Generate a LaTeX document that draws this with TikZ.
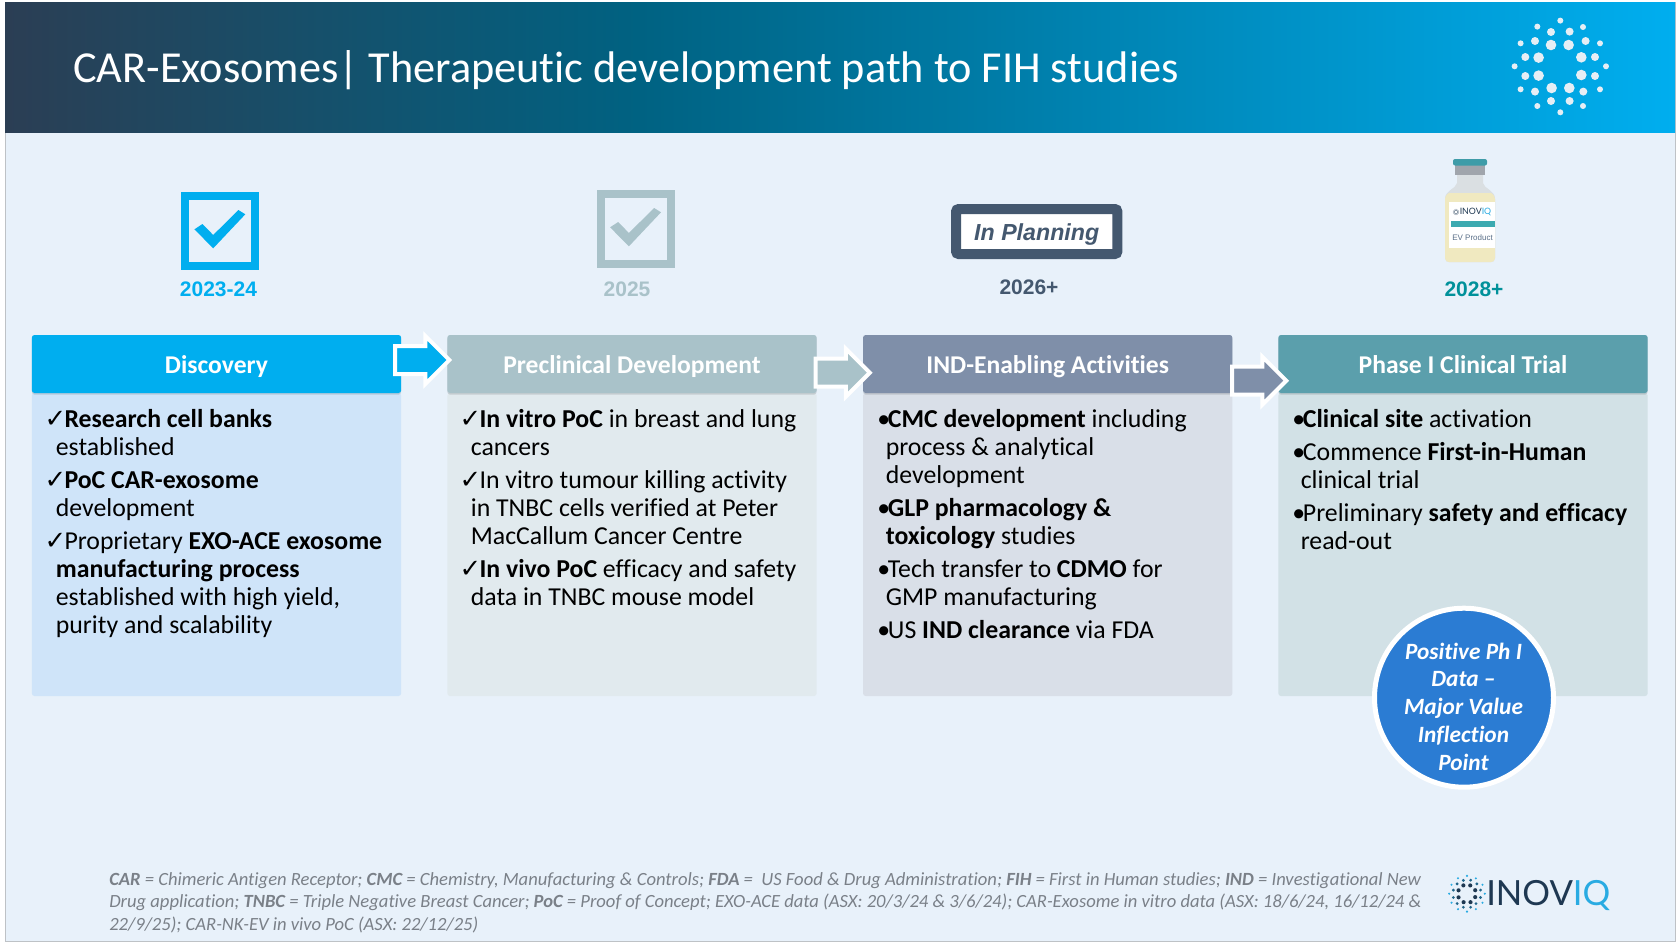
\documentclass[tikz,border=0pt]{standalone}
\usepackage{fontspec}
\setmainfont{Carlito}[Ligatures={TeX,CommonOff}]
\newfontfamily\yearfont{Liberation Sans}
\newfontfamily\symfont{DejaVu Sans}
\newfontfamily\logofont{Lato}
\usetikzlibrary{shapes.arrows,shapes.geometric,shadows,calc}
\definecolor{slide_bg}{RGB}{232, 241, 250}
\definecolor{slide_edge}{RGB}{190, 194, 198}
\definecolor{hd_dark}{RGB}{43, 62, 84}
\definecolor{hd_mid}{RGB}{0, 98, 130}
\definecolor{hd_light}{RGB}{0, 174, 239}
\definecolor{dot_pale}{RGB}{230, 238, 245}
\definecolor{disc_hd}{RGB}{0, 174, 239}
\definecolor{disc_bd}{RGB}{207, 228, 249}
\definecolor{pre_hd}{RGB}{169, 194, 201}
\definecolor{pre_bd}{RGB}{225, 234, 238}
\definecolor{ind_hd}{RGB}{127, 143, 169}
\definecolor{ind_bd}{RGB}{217, 223, 232}
\definecolor{ph_hd}{RGB}{91, 159, 172}
\definecolor{ph_bd}{RGB}{210, 225, 230}
\definecolor{plan_col}{RGB}{68, 88, 111}
\definecolor{year_teal}{RGB}{0, 145, 154}
\definecolor{circ_blue}{RGB}{43, 124, 211}
\definecolor{foot_grey}{RGB}{122, 128, 136}
\definecolor{logo_navy}{RGB}{30, 56, 82}
\definecolor{logo_blue}{RGB}{41, 171, 226}
\definecolor{vial_cap}{RGB}{62, 156, 168}
\definecolor{vial_crimp}{RGB}{160, 165, 172}
\definecolor{vial_glass}{RGB}{218, 223, 226}
\definecolor{vial_liquid}{RGB}{240, 233, 192}
\definecolor{vial_band}{RGB}{60, 170, 176}
\definecolor{vial_text}{RGB}{90, 111, 136}
\pgfdeclarehorizontalshading{headfade}{100bp}{color(0bp)=(hd_dark); color(25bp)=(hd_dark);
  color(44bp)=(hd_mid); color(75bp)=(hd_light); color(100bp)=(hd_light)}
\tikzstyle{phead}=[rectangle,rounded corners=2pt,text=white,inner sep=0pt,text height=14.9pt,text depth=1.1pt,
  minimum width=277pt,minimum height=43.5pt,font=\fontsize{19.2}{22}\selectfont\bfseries,
  drop shadow={shadow xshift=0pt,shadow yshift=-1.2pt,fill=black,opacity=.12}]
\tikzstyle{pbody}=[rectangle,rounded corners=2pt,inner sep=0pt,
  minimum width=277pt,minimum height=227.25pt]
\tikzstyle{ptext}=[anchor=north west,inner sep=0pt,align=left,text=black,
  font=\fontsize{19.35}{21.07}\selectfont]
\tikzstyle{year}=[inner sep=0pt,font=\fontsize{15.75}{18}\selectfont\yearfont\bfseries]
\tikzstyle{tickbox}=[rectangle,draw,line width=6pt,inner sep=0pt,
  minimum width=52.3pt,minimum height=52.5pt]
\tikzstyle{blockarrow}=[single arrow,draw=white,line width=3pt,anchor=tail,inner sep=0pt,
  inner ysep=9pt,minimum height=40.75pt,single arrow head extend=7.5pt,single arrow head indent=0pt]
\newcommand{\chk}{\makebox[13.7pt][l]{\hspace*{-1.2pt}\symfont ✓}}
\newcommand{\cnt}{\hspace*{7.2pt}}
\newcommand{\bul}{\makebox[8pt][l]{•}}
\newcommand{\bnt}{\hspace*{6.4pt}}
\newcommand{\ringdots}[6]{%
  \begin{scope}[shift={(#1,#2)},scale=#3]
    \foreach \dx/\dy in {0/-45.7,-23/-39.7,22.7/-39.3,-39.7/-23,39.7/-23,-45.7/0,45.7/0,
        -39.7/23,39.7/23,-23/39.7,22.7/39.7,0/46}
      \fill [#4] (\dx,\dy) circle (3);
    \foreach \dx/\dy in {-9.3/-34.3,9.3/-34.7,-25.3/-25.3,25.3/-25.3,-35/-9.3,34.7/-9.3,
        -35/9.7,34.7/9.7,-25.3/25.3,23/25.3,-9.3/34.7,9.3/34.7}
      \fill [#5] (\dx,\dy) circle (4);
    \foreach \dx/\dy in {-9.3/-21.3,8.3/-21.3,-21.7/-8.7,21/-9,-21.7/9.3,21/8.7,-8.7/21.7,9/21.7}
      \fill [#6] (\dx,\dy) circle (5.3);
  \end{scope}}
\begin{document}
\begin{tikzpicture}[x=0.75pt,y=-0.75pt]
  \useasboundingbox (0,0) rectangle (1678,943);
  \fill [white] (0,0) rectangle (1678,943);
  \draw [fill=slide_bg,draw=slide_edge,line width=0.75pt] (5,2) rectangle (1675,941);
  \shade [shading=headfade] (5,2) rectangle (1675,132.5);
  \node [anchor=west,inner sep=0pt,text=white,font=\fontsize{33.2}{38}\selectfont] (title) at (73,70)
    {CAR-Exosomes| Therapeutic development path to FIH studies};
  \ringdots{1560.3}{66.3}{1}{dot_pale}{dot_pale}{dot_pale}

  % status row
  \node [style=tickbox,draw=disc_hd] (box1) at (220,231) {};
  \fill [disc_hd] (194.4,229.3) -- (202.5,224) -- (213.2,235) -- (238.4,210) -- (245.3,214.3) -- (213.2,248.3) -- cycle;
  \node [style=tickbox,draw=pre_hd] (box2) at (636,229) {};
  \fill [pre_hd,shift={(415.7,-2)}] (194.4,229.3) -- (202.5,224) -- (213.2,235) -- (238.4,210) -- (245.3,214.3) -- (213.2,248.3) -- cycle;
  \node [rectangle,rounded corners=2pt,draw=plan_col,fill=white,line width=7.5pt,inner sep=0pt,
    minimum width=121pt,minimum height=33.75pt,text=plan_col,text height=14pt,text depth=0.3pt,
    font=\fontsize{17.4}{20}\selectfont\yearfont\bfseries\itshape] (plan) at (1036.7,231.5) {In Planning};
  \node [style=year,text=disc_hd] (y1) at (218.5,289) {2023-24};
  \node [style=year,text=pre_hd] (y2) at (627,289) {2025};
  \node [style=year,text=plan_col] (y3) at (1029,287) {2026+};
  \node [style=year,text=year_teal] (y4) at (1474,289) {2028+};

  % vial
  \fill [vial_glass] (1457,175) -- (1483,175) -- (1483,183) .. controls (1484,189) and (1495,190) .. (1495,199)
    -- (1495,258) .. controls (1495,261) and (1493,262) .. (1491,262) -- (1449,262)
    .. controls (1447,262) and (1445,261) .. (1445,258) -- (1445,199)
    .. controls (1445,190) and (1456,189) .. (1457,183) -- cycle;
  \fill [vial_liquid] (1449,193) -- (1491,193) .. controls (1494,195) and (1495,197) .. (1495,199)
    -- (1495,258) .. controls (1495,261) and (1493,262) .. (1491,262) -- (1449,262)
    .. controls (1447,262) and (1445,261) .. (1445,258) -- (1445,199)
    .. controls (1445,197) and (1446,195) .. (1449,193) -- cycle;
  \fill [vial_crimp] (1455,165) rectangle (1485,175);
  \fill [vial_cap,rounded corners=1.5pt] (1453,159) rectangle (1487,165.5);
  \fill [white] (1449,202) rectangle (1495,248);
  \fill [vial_band] (1451,221) rectangle (1495,227);
  \ringdots{1456}{212}{0.065}{logo_navy}{logo_navy}{logo_navy}
  \node [inner sep=0pt,font=\fontsize{6.6}{7}\selectfont\logofont,text=logo_navy] (vial1) at (1475.5,212) {INOV\textcolor{logo_blue}{IQ}};
  \node [inner sep=0pt,font=\fontsize{6}{7}\selectfont\yearfont,text=vial_text] (vial2) at (1472.5,237.5) {EV Product};

  % panels
  \node [style=pbody,fill=disc_bd] (b1) at (216.5,544.5) {};
  \node [style=pbody,fill=pre_bd] (b2) at (632,544.5) {};
  \node [style=pbody,fill=ind_bd] (b3) at (1047.7,544.5) {};
  \node [style=pbody,fill=ph_bd] (b4) at (1463,544.5) {};
  \node [style=phead,fill=disc_hd] (h1) at (216.5,364) {Discovery};
  \node [style=phead,fill=pre_hd] (h2) at (632,364) {Preclinical Development};
  \node [style=phead,fill=ind_hd] (h3) at (1047.7,364) {IND-Enabling Activities};
  \node [style=phead,fill=ph_hd] (h4) at (1463,364) {Phase I Clinical Trial};

  \node [style=ptext] (t1) at (46,409) {\chk\textbf{Research cell banks}\\
    \cnt established\\[3.7pt]
    \chk\textbf{PoC CAR-exosome}\\
    \cnt development\\[3.7pt]
    \chk Proprietary \textbf{EXO-ACE exosome}\\
    \cnt\textbf{manufacturing process}\\
    \cnt established with high yield,\\
    \cnt purity and scalability};
  \node [style=ptext] (t2) at (461,409) {\chk\textbf{In vitro PoC} in breast and lung\\
    \cnt cancers\\[3.7pt]
    \chk In vitro tumour killing activity\\
    \cnt in TNBC cells verified at Peter\\
    \cnt MacCallum Cancer Centre\\[3.7pt]
    \chk\textbf{In vivo PoC} efficacy and safety\\
    \cnt data in TNBC mouse model};
  \node [style=ptext] (t3) at (877,409) {\bul\textbf{CMC development} including\\
    \bnt process \& analytical\\
    \bnt development\\[3.7pt]
    \bul\textbf{GLP pharmacology \&}\\
    \bnt\textbf{toxicology} studies\\[3.7pt]
    \bul Tech transfer to \textbf{CDMO} for\\
    \bnt GMP manufacturing\\[3.7pt]
    \bul US \textbf{IND clearance} via FDA};
  \node [style=ptext] (t4) at (1292,409) {\bul\textbf{Clinical site} activation\\[3.7pt]
    \bul Commence \textbf{First-in-Human}\\
    \bnt clinical trial\\[3.7pt]
    \bul Preliminary \textbf{safety and efficacy}\\
    \bnt read-out};

  % arrows between panels
  \node [style=blockarrow,fill=disc_hd] (a1) at (393,360) {};
  \node [style=blockarrow,fill=pre_hd] (a2) at (813.5,372.7) {};
  \node [style=blockarrow,fill=ind_hd] (a3) at (1230,380.7) {};

  \node [circle,draw=white,fill=circ_blue,line width=3.75pt,inner sep=0pt,minimum size=134.25pt] (peak) at (1464,697.7) {};
  \node [inner sep=0pt,align=center,text=white,font=\fontsize{17.5}{20.8}\selectfont\bfseries\itshape] (peaktext) at (1463.5,706.5)
    {Positive Ph I\\Data --\\Major Value\\Inflection\\Point};

  % footer
  \node [anchor=north west,inner sep=0pt,align=left,text=foot_grey,
    font=\fontsize{13.95}{16.9}\selectfont\itshape] (foot) at (109,872)
    {\textbf{CAR} = Chimeric Antigen Receptor; \textbf{CMC} = Chemistry, Manufacturing \& Controls; \textbf{FDA} = ~US Food \& Drug Administration; \textbf{FIH} = First in Human studies; \textbf{IND} = Investigational New\\
    Drug application; \textbf{TNBC} = Triple Negative Breast Cancer; \textbf{PoC} = Proof of Concept; EXO-ACE data (ASX: 20/3/24 \& 3/6/24); CAR-Exosome in vitro data (ASX: 18/6/24, 16/12/24 \&\\
    22/9/25); CAR-NK-EV in vivo PoC (ASX: 22/12/25)};
  \ringdots{1467}{893.7}{0.39}{logo_blue}{logo_navy!60!logo_blue}{logo_navy}
  \node [anchor=west,inner sep=0pt,text=logo_navy,font=\fontsize{26}{30}\selectfont\logofont] (logo) at (1486,895.7)
    {INOV\textcolor{logo_blue}{IQ}};
\end{tikzpicture}
\end{document}
